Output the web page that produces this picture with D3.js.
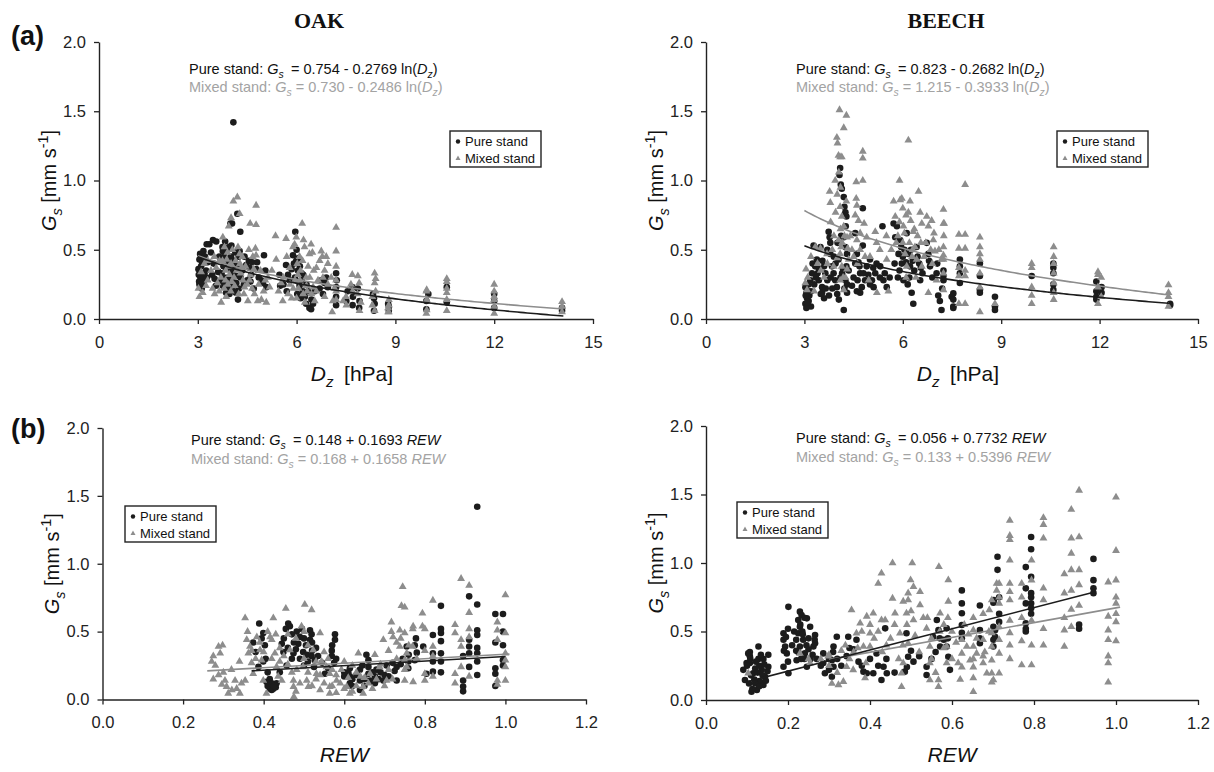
<!DOCTYPE html>
<html>
<head>
<meta charset="utf-8">
<script src="https://cdn.jsdelivr.net/npm/d3@7"></script>
<style>
  body { margin: 0; background: #fff; }
  svg text { font-family: "Liberation Sans", Arial, sans-serif; }
</style>
</head>
<body>
<svg id="chart" width="1214" height="772"></svg>
<script>
'use strict';

// ---- data ----
var speciesNames = ['OAK', 'BEECH'];
var rowLabels = ['(a)', '(b)'];
var seriesNames = ['Pure stand', 'Mixed stand'];
var dzTicks = [0, 3, 6, 9, 12, 15];
var rewTicks = [0, 0.2, 0.4, 0.6, 0.8, 1.0, 1.2];
var gsTicks = [0, 0.5, 1.0, 1.5, 2.0];

// regression fits [intercept, slope] and the span they are drawn over
var oakDzFit = [[0.754, -0.2769], [0.730, -0.2486]];
var beechDzFit = [[0.823, -0.2682], [1.215, -0.3933]];
var oakRewFit = [[0.148, 0.1693], [0.168, 0.1658]];
var beechRewFit = [[0.056, 0.7732], [0.133, 0.5396]];
var oakDzSpan = [[3.0, 14.1], [3.0, 14.1]];
var beechDzSpan = [[3.0, 14.15], [3.0, 14.15]];
var oakRewSpan = [[0.37, 1.0], [0.26, 1.01]];
var beechRewSpan = [[0.1, 0.95], [0.3, 1.01]];

var oakDzPure = [
  [3.03,0.32],[3.05,0.43],[3.05,0.25],[3.08,0.3],[3.1,0.38],[3.15,0.29],[3.17,0.49],[3.2,0.33],[3.25,0.35],[3.27,0.54],
  [3.35,0.54],[3.44,0.32],[3.46,0.57],[3.51,0.29],[3.56,0.56],[3.76,0.49],[3.76,0.24],[3.78,0.38],[3.8,0.3],[3.81,0.45],
  [3.86,0.37],[3.86,0.19],[3.9,0.42],[3.95,0.52],[3.96,0.18],[3.99,0.69],[4.0,0.25],[4.01,0.45],[4.04,0.69],[4.05,0.28],
  [4.06,0.35],[4.08,1.42],[4.1,0.2],[4.11,0.36],[4.17,0.31],[4.17,0.26],[4.2,0.76],[4.22,0.14],[4.27,0.49],[4.29,0.63],
  [4.42,0.45],[4.47,0.39],[4.5,0.28],[4.57,0.37],[4.62,0.32],[4.7,0.22],[4.77,0.36],[4.93,0.28],[4.98,0.26],[5.01,0.46],
  [5.08,0.23],[5.48,0.32],[5.68,0.39],[5.74,0.32],[5.79,0.28],[5.89,0.46],[5.95,0.3],[5.96,0.63],[5.99,0.42],[6.02,0.18],
  [6.04,0.35],[6.09,0.24],[6.1,0.38],[6.15,0.28],[6.19,0.2],[6.29,0.11],[6.39,0.08],[6.44,0.07],[6.5,0.11],[6.75,0.28],
  [6.85,0.26],[6.95,0.23],[7.2,0.33],[7.2,0.23],[7.2,0.16],[7.51,0.13],[7.69,0.23],[7.71,0.16],[7.86,0.22],[7.91,0.13],
  [8.32,0.18],[8.37,0.11],[8.78,0.11],[8.8,0.06],[9.94,0.13],[9.94,0.07],[10.56,0.23],[10.56,0.12],[12.0,0.13],[12.0,0.08],
  [14.06,0.06],[14.06,0.08],[3.12,0.22],[3.3,0.41],[3.62,0.34],[3.7,0.27],[3.83,0.56],[3.92,0.3],[4.03,0.4],[4.14,0.48],
  [4.25,0.22],[4.35,0.35],[4.55,0.42],[4.85,0.3],[5.6,0.25],[5.85,0.36],[6.0,0.5],[6.06,0.44],[6.12,0.15],[6.2,0.32],
  [6.3,0.25],[6.55,0.2],[6.8,0.18],[7.2,0.1],[7.55,0.2],[7.9,0.08],[8.35,0.06],[10.0,0.18],[12.0,0.18],
  [3.02,0.36],[3.04,0.27],[3.07,0.47],[3.13,0.41],[3.18,0.26],[3.22,0.45],[3.28,0.3],[3.4,0.48],[3.48,0.4],[3.55,0.24],
  [3.65,0.45],[3.72,0.33],[3.75,0.52],[3.82,0.27],[3.88,0.5],[3.93,0.23],[3.98,0.36],[4.02,0.53],[4.07,0.31],[4.12,0.42],
  [4.16,0.19],[4.19,0.38],[4.24,0.45],[4.3,0.3],[4.4,0.25],[4.6,0.27],[4.65,0.41],[4.8,0.41],[5.05,0.35],[5.5,0.24],
  [5.7,0.2],[5.92,0.4],[6.05,0.27],[6.15,0.33],[6.25,0.16],[6.35,0.2],[6.45,0.14],[6.7,0.22],[6.9,0.3],[7.22,0.28],
  [7.7,0.1],[8.35,0.15],[8.8,0.09]
];
var oakDzMixed = [
  [3.05,0.16],[3.2,0.4],[3.3,0.42],[3.51,0.18],[3.56,0.37],[3.66,0.42],[3.76,0.59],[3.81,0.52],[3.71,0.12],[3.86,0.16],
  [3.91,0.25],[3.96,0.32],[4.01,0.4],[3.94,0.67],[4.01,0.73],[4.08,0.85],[4.2,0.88],[4.22,0.52],[4.27,0.47],[4.27,0.76],
  [4.32,0.37],[4.37,0.28],[4.42,0.23],[4.52,0.13],[4.59,0.69],[4.77,0.82],[4.77,0.68],[4.75,0.51],[4.77,0.46],[4.67,0.45],
  [4.57,0.28],[4.72,0.18],[4.82,0.13],[4.93,0.14],[5.08,0.12],[5.13,0.3],[5.18,0.23],[5.36,0.6],[5.38,0.43],[5.53,0.26],
  [5.58,0.13],[5.68,0.58],[5.74,0.18],[5.79,0.37],[5.89,0.52],[5.94,0.54],[5.99,0.59],[6.04,0.32],[6.09,0.45],[6.17,0.69],
  [6.21,0.57],[6.24,0.52],[6.29,0.3],[6.39,0.47],[6.44,0.54],[6.48,0.48],[6.5,0.23],[6.55,0.13],[6.6,0.37],[6.75,0.49],
  [6.78,0.45],[6.85,0.16],[6.9,0.45],[6.95,0.4],[7.2,0.66],[7.2,0.49],[7.2,0.28],[7.1,0.13],[7.08,0.05],[7.41,0.13],
  [7.51,0.1],[7.69,0.32],[7.86,0.31],[7.91,0.06],[8.37,0.33],[8.37,0.26],[8.37,0.06],[8.78,0.08],[8.78,0.05],[9.94,0.2],
  [9.94,0.04],[3.3,0.28],[3.5,0.45],[3.7,0.3],[3.85,0.35],[3.9,0.48],[4.0,0.2],[4.1,0.3],[4.15,0.42],[4.3,0.33],
  [4.45,0.38],[4.6,0.32],[4.9,0.35],[5.0,0.2],[5.9,0.22],[6.0,0.15],[6.1,0.28],[6.2,0.18],[6.3,0.24],[6.35,0.38],
  [6.6,0.2],[6.8,0.3],[7.2,0.38],[7.2,0.2],[7.7,0.2],[7.9,0.26],[8.3,0.16],[8.4,0.2],[8.8,0.14],[8.8,0.1],
  [8.8,0.05],[9.95,0.21],[9.95,0.14],[9.95,0.065],[10.56,0.29],[10.56,0.27],[10.56,0.22],[10.56,0.19],[10.56,0.14],[10.56,0.06],
  [12.0,0.25],[12.0,0.2],[12.0,0.16],[12.0,0.14],[12.0,0.09],[12.0,0.04],[14.06,0.125],[14.06,0.09],[14.06,0.05],
  [3.02,0.22],[3.1,0.34],[3.15,0.19],[3.25,0.24],[3.4,0.35],[3.45,0.22],[3.6,0.26],[3.65,0.2],[3.75,0.42],[3.8,0.22],
  [3.84,0.28],[3.88,0.43],[3.95,0.38],[4.03,0.27],[4.05,0.5],[4.12,0.24],[4.18,0.35],[4.24,0.18],[4.28,0.4],[4.35,0.45],
  [4.4,0.18],[4.5,0.25],[4.55,0.5],[4.65,0.22],[4.7,0.36],[4.85,0.25],[5.05,0.28],[5.25,0.35],[5.45,0.2],[5.6,0.3],
  [5.7,0.45],[5.8,0.25],[5.85,0.15],[5.95,0.28],[6.02,0.4],[6.06,0.22],[6.12,0.35],[6.18,0.42],[6.25,0.12],[6.32,0.2],
  [6.4,0.3],[6.45,0.18],[6.52,0.35],[6.65,0.28],[6.7,0.42],[6.85,0.35],[6.95,0.25],[7.05,0.3],[7.15,0.22],[7.2,0.14],
  [7.5,0.16],[7.65,0.25],[7.85,0.18],[7.95,0.12],[8.3,0.1],[8.4,0.29]
];

var beechDzPure = [
  [3.03,0.23],[3.06,0.19],[3.08,0.15],[3.13,0.13],[3.03,0.11],[3.18,0.28],[3.23,0.33],[3.28,0.53],[3.33,0.38],[3.38,0.43],
  [3.44,0.28],[3.49,0.52],[3.54,0.23],[3.54,0.19],[3.64,0.33],[3.74,0.63],[3.77,0.59],[3.79,0.55],[3.79,0.47],[3.84,0.38],
  [3.89,0.33],[3.94,0.28],[3.99,0.23],[4.01,0.55],[4.04,0.43],[4.07,1.04],[4.09,1.09],[4.11,0.97],[4.14,0.94],[4.2,0.88],
  [4.22,0.81],[4.25,0.77],[4.28,0.74],[4.26,0.67],[4.2,0.59],[4.25,0.52],[4.3,0.47],[4.28,0.38],[4.25,0.28],[4.3,0.19],
  [4.2,0.065],[4.55,0.62],[4.6,0.47],[4.65,0.41],[4.7,0.33],[4.75,0.23],[4.78,0.8],[4.78,0.53],[4.7,0.19],[4.9,0.38],
  [5.0,0.43],[5.06,0.28],[5.11,0.23],[5.16,0.33],[5.31,0.38],[5.38,0.67],[5.41,0.28],[5.51,0.23],[5.72,0.69],[5.77,0.59],
  [5.82,0.67],[5.87,0.47],[5.92,0.57],[5.97,0.4],[6.02,0.28],[6.12,0.62],[6.17,0.47],[6.22,0.38],[6.27,0.19],[6.32,0.11],
  [6.42,0.52],[6.53,0.28],[6.73,0.55],[6.78,0.47],[6.83,0.38],[7.03,0.33],[7.08,0.17],[7.13,0.13],[7.18,0.065],[7.49,0.16],
  [7.54,0.09],[7.24,0.35],[7.24,0.31],[7.24,0.28],[7.54,0.185],[7.54,0.14],[7.54,0.08],[7.74,0.43],[7.74,0.38],[7.74,0.33],
  [7.74,0.26],[8.35,0.4],[8.35,0.31],[8.35,0.21],[8.35,0.19],[8.81,0.16],[8.81,0.09],[8.81,0.065],[9.93,0.31],[10.59,0.4],
  [10.59,0.37],[10.59,0.33],[10.59,0.25],[10.59,0.21],[11.9,0.27],[11.9,0.2],[11.9,0.16],[11.9,0.14],[12.06,0.23],[12.06,0.19],
  [14.15,0.11],[14.15,0.1],[3.1,0.2],[3.15,0.17],[3.2,0.09],[3.3,0.25],[3.4,0.33],[3.6,0.15],[3.7,0.28],[3.85,0.22],
  [3.9,0.45],[4.05,0.14],[4.15,0.33],[4.3,0.25],[4.5,0.3],[4.6,0.2],[4.85,0.28],[5.0,0.25],[5.2,0.4],[5.6,0.3],
  [5.9,0.35],[6.05,0.5],[6.2,0.3],[6.3,0.42],[6.5,0.4],[6.6,0.33],
  [3.04,0.17],[3.06,0.08],[3.1,0.12],[3.12,0.25],[3.2,0.2],[3.25,0.4],[3.35,0.3],[3.45,0.36],[3.5,0.18],[3.55,0.42],
  [3.6,0.38],[3.65,0.22],[3.7,0.5],[3.75,0.17],[3.8,0.3],[3.95,0.4],[4.0,0.18],[4.1,0.3],[4.12,0.6],[4.18,0.36],
  [4.22,0.22],[4.35,0.35],[4.45,0.24],[4.55,0.4],[4.62,0.28],[4.68,0.38],[4.8,0.33],[4.95,0.32],[5.1,0.37],[5.3,0.3],
  [5.45,0.33],[5.75,0.4],[5.85,0.3],[5.95,0.52],[6.0,0.45],[6.1,0.41],[6.15,0.25],[6.25,0.5],[6.35,0.35],[6.45,0.45],
  [6.55,0.37],[6.8,0.42],[6.9,0.3],[7.05,0.4],[7.2,0.22]
];
var beechDzMixed = [
  [3.03,0.26],[3.08,0.21],[3.33,0.52],[3.49,0.51],[3.69,0.47],[3.77,0.92],[3.79,0.84],[3.89,0.38],[3.94,1.0],[3.99,1.31],
  [4.01,1.27],[4.04,1.18],[4.07,1.51],[4.09,1.17],[4.14,1.17],[4.2,1.38],[4.28,1.47],[4.09,0.81],[4.14,0.74],[4.2,0.67],
  [4.04,0.57],[4.09,0.47],[4.14,0.38],[4.09,0.28],[4.2,0.21],[4.3,0.59],[4.32,0.51],[4.35,0.43],[4.58,0.99],[4.58,0.87],
  [4.6,0.82],[4.6,0.57],[4.65,0.71],[4.78,1.21],[4.78,1.16],[4.78,1.0],[4.82,0.69],[4.9,0.59],[4.96,0.28],[5.16,0.63],
  [5.21,0.19],[5.51,0.43],[5.56,0.2],[5.72,0.85],[5.77,0.74],[5.9,1.0],[5.92,0.86],[5.97,0.87],[6.02,0.67],[6.07,0.47],
  [6.12,0.38],[6.17,1.29],[6.17,0.77],[6.22,0.85],[6.24,0.71],[6.32,0.63],[6.37,0.52],[6.42,0.43],[6.48,0.92],[6.53,0.77],
  [6.58,0.69],[6.58,0.38],[6.73,0.74],[6.78,0.67],[6.88,0.71],[6.93,0.57],[6.98,0.49],[7.03,0.28],[7.24,0.79],[7.26,0.69],
  [7.18,0.43],[6.78,0.19],[7.24,0.69],[7.24,0.52],[7.24,0.46],[7.24,0.43],[7.24,0.33],[7.24,0.21],[7.71,0.61],[7.71,0.51],
  [7.71,0.37],[7.71,0.31],[7.71,0.11],[7.9,0.97],[7.9,0.61],[7.9,0.51],[7.9,0.35],[7.9,0.31],[7.9,0.11],[8.35,0.59],
  [8.35,0.52],[8.35,0.47],[8.35,0.43],[8.35,0.33],[8.35,0.23],[8.35,0.05],[8.81,0.11],[9.93,0.4],[9.93,0.37],[9.93,0.23],
  [9.93,0.17],[9.93,0.11],[10.6,0.52],[10.6,0.45],[10.6,0.4],[10.6,0.33],[10.6,0.26],[10.6,0.19],[10.6,0.14],[11.95,0.34],
  [11.95,0.32],[12.05,0.3],[11.95,0.23],[12.05,0.16],[11.95,0.11],[14.1,0.245],[14.1,0.19],[14.1,0.16],[14.1,0.09],[3.1,0.3],
  [3.4,0.4],[3.6,0.3],[3.9,0.6],[4.0,0.9],[4.1,0.65],[4.15,0.55],[4.25,0.3],[4.4,0.6],[4.5,0.45],[4.7,0.5],
  [5.0,0.45],[5.3,0.5],[5.85,0.6],[6.0,0.55],[6.1,0.3],[6.3,0.5],[6.45,0.6],[6.7,0.55],[6.9,0.4],
  [3.05,0.36],[3.2,0.45],[3.3,0.2],[3.5,0.35],[3.7,0.4],[3.8,0.7],[3.85,0.5],[3.95,0.77],[4.0,0.44],[4.05,1.06],
  [4.1,0.95],[4.12,0.52],[4.18,0.3],[4.22,0.6],[4.28,0.85],[4.3,0.36],[4.45,0.5],[4.55,0.75],[4.62,0.4],[4.7,0.62],
  [4.85,0.45],[5.2,0.55],[5.5,0.6],[5.65,0.5],[5.8,0.55],[5.9,0.7],[6.0,0.8],[6.05,0.62],[6.1,0.75],[6.2,0.55],
  [6.28,0.45],[6.35,0.65],[6.4,0.3],[6.55,0.55],[6.65,0.45],[6.85,0.5],[6.95,0.62],[7.1,0.5],[7.25,0.6]
];

var oakRewPure = [
  [0.374,0.42],[0.389,0.56],[0.399,0.49],[0.403,0.4],[0.399,0.28],[0.387,0.24],[0.407,0.13],[0.416,0.08],[0.42,0.07],[0.424,0.08],
  [0.432,0.12],[0.445,0.41],[0.449,0.35],[0.461,0.56],[0.465,0.54],[0.482,0.5],[0.49,0.46],[0.515,0.51],[0.519,0.48],[0.486,0.41],
  [0.498,0.35],[0.507,0.33],[0.519,0.32],[0.527,0.29],[0.457,0.25],[0.474,0.34],[0.577,0.48],[0.577,0.44],[0.569,0.36],[0.569,0.32],
  [0.552,0.19],[0.614,0.23],[0.614,0.17],[0.614,0.12],[0.639,0.22],[0.639,0.14],[0.639,0.07],[0.655,0.33],[0.66,0.29],[0.66,0.24],
  [0.676,0.17],[0.676,0.12],[0.697,0.14],[0.68,0.22],[0.664,0.14],[0.73,0.24],[0.73,0.14],[0.755,0.39],[0.759,0.28],[0.759,0.23],
  [0.778,0.45],[0.78,0.345],[0.796,0.39],[0.804,0.19],[0.775,0.4],[0.775,0.29],[0.82,0.475],[0.82,0.34],[0.82,0.28],[0.82,0.205],
  [0.84,0.69],[0.84,0.52],[0.84,0.49],[0.84,0.43],[0.84,0.34],[0.84,0.28],[0.84,0.2],[0.895,0.32],[0.895,0.14],[0.895,0.095],
  [0.895,0.06],[0.91,0.76],[0.91,0.44],[0.91,0.39],[0.91,0.34],[0.91,0.24],[0.93,1.42],[0.93,0.7],[0.93,0.51],[0.93,0.475],
  [0.93,0.38],[0.93,0.34],[0.93,0.28],[0.93,0.18],[0.975,0.63],[0.975,0.42],[0.975,0.23],[0.975,0.19],[0.975,0.1],[0.994,0.63],
  [0.994,0.5],[0.994,0.4],[0.994,0.29],[0.994,0.25],[0.5,0.25],[0.52,0.42],[0.53,0.38],[0.47,0.3],[0.44,0.2],[0.6,0.2],
  [0.62,0.15],[0.65,0.1],[0.67,0.2],[0.7,0.18],[0.72,0.27],[0.745,0.3],[0.56,0.23],[0.58,0.3],[0.41,0.1],[0.43,0.09],
  [0.38,0.35],[0.395,0.45],[0.405,0.3],[0.41,0.2],[0.415,0.15],[0.42,0.12],[0.425,0.1],[0.45,0.45],[0.455,0.52],[0.46,0.38],
  [0.47,0.48],[0.475,0.42],[0.48,0.37],[0.49,0.3],[0.495,0.52],[0.5,0.45],[0.505,0.4],[0.51,0.28],[0.515,0.44],[0.52,0.36],
  [0.525,0.24],[0.535,0.32],[0.545,0.27],[0.57,0.4],[0.575,0.27],[0.6,0.17],[0.61,0.2],[0.62,0.1],[0.63,0.18],[0.645,0.25],
  [0.65,0.15],[0.66,0.19],[0.67,0.13],[0.685,0.15],[0.69,0.2],[0.705,0.25],[0.71,0.17],[0.725,0.21],[0.74,0.26],[0.76,0.33]
];
var oakRewMixed = [
  [0.271,0.28],[0.275,0.32],[0.288,0.39],[0.292,0.34],[0.298,0.4],[0.275,0.15],[0.288,0.18],[0.296,0.11],[0.304,0.14],[0.308,0.095],
  [0.312,0.045],[0.321,0.07],[0.329,0.14],[0.333,0.08],[0.341,0.045],[0.345,0.12],[0.354,0.6],[0.354,0.14],[0.358,0.44],[0.362,0.34],
  [0.366,0.39],[0.37,0.27],[0.374,0.19],[0.383,0.46],[0.391,0.365],[0.395,0.29],[0.399,0.14],[0.407,0.045],[0.416,0.46],[0.42,0.44],
  [0.424,0.6],[0.428,0.34],[0.432,0.24],[0.436,0.17],[0.445,0.14],[0.455,0.67],[0.465,0.365],[0.474,0.14],[0.474,0.095],[0.475,0.02],
  [0.482,0.22],[0.494,0.54],[0.498,0.24],[0.502,0.7],[0.507,0.14],[0.511,0.095],[0.519,0.66],[0.523,0.365],[0.531,0.19],[0.54,0.49],
  [0.54,0.07],[0.544,0.28],[0.556,0.24],[0.564,0.19],[0.564,0.095],[0.564,0.045],[0.581,0.14],[0.593,0.22],[0.606,0.095],[0.614,0.045],
  [0.635,0.34],[0.647,0.095],[0.647,0.045],[0.664,0.19],[0.676,0.33],[0.688,0.24],[0.697,0.44],[0.705,0.14],[0.717,0.57],[0.717,0.5],
  [0.721,0.46],[0.738,0.51],[0.738,0.39],[0.742,0.69],[0.745,0.83],[0.755,0.34],[0.755,0.24],[0.771,0.54],[0.771,0.13],[0.794,0.635],
  [0.794,0.54],[0.75,0.68],[0.75,0.49],[0.75,0.29],[0.75,0.22],[0.75,0.14],[0.77,0.52],[0.77,0.39],[0.8,0.52],[0.8,0.36],
  [0.8,0.19],[0.8,0.14],[0.82,0.73],[0.82,0.39],[0.82,0.32],[0.82,0.17],[0.875,0.55],[0.875,0.49],[0.875,0.19],[0.875,0.12],
  [0.89,0.89],[0.89,0.44],[0.89,0.39],[0.89,0.24],[0.91,0.84],[0.91,0.64],[0.91,0.52],[0.91,0.46],[0.91,0.17],[0.98,0.57],
  [0.98,0.51],[0.98,0.44],[0.98,0.14],[0.98,0.11],[1.0,0.77],[1.0,0.49],[1.0,0.34],[1.0,0.29],[1.0,0.24],[1.0,0.14],
  [0.42,0.3],[0.44,0.38],[0.46,0.26],[0.48,0.45],[0.5,0.3],[0.51,0.2],[0.53,0.15],[0.55,0.35],[0.57,0.1],[0.58,0.18],
  [0.6,0.28],[0.62,0.06],[0.63,0.2],[0.65,0.16],[0.67,0.08],[0.69,0.26],[0.71,0.36],[0.72,0.15],[0.73,0.42],
  [0.28,0.25],[0.3,0.2],[0.32,0.22],[0.34,0.28],[0.36,0.5],[0.37,0.36],[0.38,0.3],[0.39,0.42],[0.4,0.35],[0.41,0.5],
  [0.43,0.48],[0.44,0.28],[0.45,0.32],[0.46,0.48],[0.47,0.2],[0.48,0.06],[0.49,0.12],[0.5,0.5],[0.51,0.4],[0.52,0.1],
  [0.53,0.28],[0.54,0.18],[0.55,0.12],[0.56,0.3],[0.57,0.22],[0.58,0.05],[0.59,0.12],[0.6,0.08],[0.61,0.16],[0.62,0.25],
  [0.63,0.1],[0.64,0.17],[0.66,0.12],[0.68,0.15],[0.7,0.1],[0.71,0.22],[0.73,0.3],[0.74,0.45],[0.76,0.4],[0.78,0.3]
];

var beechRewPure = [
  [0.091,0.22],[0.095,0.146],[0.099,0.27],[0.103,0.34],[0.107,0.35],[0.107,0.32],[0.107,0.27],[0.111,0.06],[0.115,0.195],[0.12,0.23],
  [0.124,0.073],[0.128,0.39],[0.128,0.3],[0.132,0.134],[0.136,0.22],[0.14,0.11],[0.144,0.17],[0.152,0.33],[0.152,0.243],[0.189,0.487],
  [0.189,0.44],[0.193,0.39],[0.197,0.34],[0.189,0.243],[0.201,0.68],[0.201,0.195],[0.229,0.645],[0.233,0.62],[0.225,0.584],[0.229,0.535],
  [0.225,0.487],[0.237,0.44],[0.229,0.39],[0.241,0.34],[0.221,0.29],[0.246,0.596],[0.246,0.243],[0.254,0.535],[0.262,0.39],[0.266,0.474],
  [0.266,0.414],[0.286,0.34],[0.286,0.27],[0.29,0.195],[0.307,0.29],[0.307,0.17],[0.311,0.243],[0.319,0.462],[0.311,0.39],[0.347,0.462],
  [0.343,0.32],[0.367,0.44],[0.372,0.28],[0.384,0.207],[0.392,0.195],[0.437,0.523],[0.416,0.34],[0.408,0.195],[0.428,0.146],[0.433,0.243],
  [0.441,0.195],[0.489,0.487],[0.485,0.207],[0.493,0.316],[0.506,0.28],[0.538,0.243],[0.538,0.183],[0.563,0.584],[0.567,0.51],[0.571,0.39],
  [0.554,0.462],[0.587,0.523],[0.587,0.39],[0.591,0.316],[0.595,0.22],[0.624,0.8],[0.624,0.705],[0.624,0.633],[0.624,0.547],[0.624,0.45],
  [0.668,0.69],[0.668,0.51],[0.668,0.414],[0.702,0.73],[0.705,0.51],[0.705,0.462],[0.711,1.046],[0.711,0.95],[0.624,0.49],[0.668,0.45],
  [0.701,0.71],[0.701,0.535],[0.701,0.44],[0.701,0.39],[0.715,0.75],[0.715,0.63],[0.715,0.57],[0.78,0.97],[0.78,0.815],[0.78,0.705],
  [0.78,0.56],[0.78,0.52],[0.78,0.5],[0.793,1.19],[0.793,1.1],[0.793,0.9],[0.793,0.78],[0.793,0.75],[0.793,0.705],[0.793,0.67],
  [0.793,0.63],[0.91,0.55],[0.91,0.52],[0.945,1.03],[0.945,0.875],[0.945,0.815],[0.945,0.78],[0.11,0.18],[0.12,0.12],[0.13,0.25],
  [0.14,0.3],[0.2,0.28],[0.21,0.4],[0.22,0.36],[0.235,0.5],[0.24,0.3],[0.25,0.45],[0.26,0.33],[0.3,0.22],[0.32,0.3],
  [0.36,0.37],[0.4,0.3],[0.42,0.25],[0.5,0.36],[0.55,0.3],[0.57,0.45],
  [0.1,0.25],[0.105,0.12],[0.108,0.3],[0.113,0.08],[0.118,0.15],[0.122,0.28],[0.126,0.2],[0.13,0.1],[0.134,0.33],[0.138,0.18],
  [0.142,0.26],[0.146,0.14],[0.15,0.21],[0.19,0.36],[0.195,0.46],[0.2,0.52],[0.215,0.5],[0.22,0.44],[0.225,0.35],[0.23,0.55],
  [0.232,0.3],[0.236,0.48],[0.24,0.6],[0.245,0.4],[0.25,0.37],[0.255,0.3],[0.265,0.44],[0.27,0.3],[0.28,0.25],[0.3,0.3],
  [0.31,0.35],[0.33,0.25],[0.35,0.38],[0.38,0.25],[0.44,0.3],[0.46,0.2],[0.49,0.24],[0.52,0.32],[0.56,0.35],[0.58,0.44],[0.59,0.45]
];
var beechRewMixed = [
  [0.103,0.195],[0.229,0.34],[0.254,0.27],[0.298,0.32],[0.307,0.12],[0.323,0.11],[0.335,0.134],[0.343,0.243],[0.355,0.657],[0.359,0.22],
  [0.367,0.487],[0.376,0.56],[0.384,0.39],[0.388,0.16],[0.392,0.61],[0.4,0.487],[0.4,0.39],[0.408,0.633],[0.42,0.85],[0.428,0.925],
  [0.428,0.584],[0.437,0.584],[0.455,1.0],[0.455,0.742],[0.461,0.633],[0.473,0.487],[0.477,0.097],[0.477,0.195],[0.481,0.27],[0.481,0.72],
  [0.489,0.633],[0.493,0.78],[0.493,0.73],[0.493,0.414],[0.499,0.876],[0.503,1.0],[0.506,0.827],[0.506,0.584],[0.522,0.79],[0.522,0.693],
  [0.538,0.523],[0.546,0.39],[0.546,0.27],[0.546,0.146],[0.568,0.973],[0.571,0.633],[0.567,0.146],[0.567,0.097],[0.587,0.39],[0.587,0.27],
  [0.591,0.876],[0.591,0.72],[0.615,0.27],[0.636,0.39],[0.644,0.29],[0.652,0.06],[0.66,0.34],[0.676,0.27],[0.685,0.195],[0.691,0.657],
  [0.701,0.146],[0.709,0.85],[0.709,0.8],[0.624,0.44],[0.624,0.34],[0.624,0.24],[0.652,0.6],[0.652,0.51],[0.652,0.39],[0.652,0.3],
  [0.652,0.24],[0.652,0.16],[0.676,0.63],[0.676,0.44],[0.676,0.32],[0.697,0.73],[0.697,0.49],[0.697,0.39],[0.697,0.29],[0.697,0.195],
  [0.697,0.13],[0.715,0.85],[0.715,0.75],[0.715,0.705],[0.715,0.535],[0.715,0.44],[0.715,0.34],[0.715,0.195],[0.741,1.31],[0.741,1.2],
  [0.741,1.17],[0.741,1.02],[0.741,0.85],[0.741,0.79],[0.741,0.73],[0.741,0.58],[0.741,0.49],[0.741,0.4],[0.741,0.3],[0.77,0.85],
  [0.77,0.75],[0.77,0.6],[0.77,0.43],[0.77,0.255],[0.794,1.02],[0.794,0.875],[0.794,0.58],[0.794,0.4],[0.794,0.255],[0.823,1.33],
  [0.823,1.28],[0.823,1.18],[0.823,0.815],[0.823,0.73],[0.823,0.52],[0.823,0.4],[0.874,0.92],[0.874,0.78],[0.874,0.6],[0.874,0.51],
  [0.874,0.39],[0.891,1.39],[0.891,1.18],[0.891,1.07],[0.891,0.95],[0.891,0.8],[0.891,0.66],[0.891,0.535],[0.91,1.53],[0.91,1.19],
  [0.91,0.95],[0.91,0.84],[0.91,0.69],[0.981,0.86],[0.981,0.61],[0.981,0.51],[0.981,0.44],[0.981,0.32],[0.981,0.27],[0.981,0.13],
  [1.0,1.48],[1.0,1.09],[1.0,0.875],[1.0,0.75],[1.0,0.705],[1.0,0.63],[1.0,0.57],[1.0,0.43],[0.3,0.25],[0.33,0.36],
  [0.35,0.3],[0.37,0.38],[0.39,0.27],[0.41,0.45],[0.43,0.35],[0.45,0.45],[0.47,0.3],[0.49,0.55],[0.51,0.47],[0.53,0.6],
  [0.55,0.45],[0.56,0.2],[0.58,0.55],[0.6,0.5],[0.6,0.3],[0.62,0.15],
  [0.25,0.3],[0.28,0.3],[0.3,0.33],[0.32,0.2],[0.34,0.4],[0.36,0.35],[0.38,0.5],[0.4,0.55],[0.42,0.5],[0.44,0.4],
  [0.46,0.55],[0.48,0.4],[0.5,0.65],[0.52,0.35],[0.54,0.6],[0.55,0.3],[0.57,0.5],[0.58,0.38],[0.59,0.6],[0.61,0.42],
  [0.63,0.55],[0.64,0.48],[0.66,0.45],[0.68,0.35],[0.69,0.5]
];

// ---- drawing ----
var svg = d3.select('#chart');
var PURE = '#1c1c1c';
var MIXED = '#8d8d8d';
var MIXED_TEXT = '#a3a3a3';
var AXIS = '#222';

var f3 = d3.format('.3f');
var f4 = d3.format('.4f');

function richText(g, x, y, color, size, parts) {
  var t = g.append('text').attr('x', x).attr('y', y).attr('fill', color).style('font-size', size + 'px');
  var shift = 0;
  parts.forEach(function (p) {
    var s = t.append('tspan').text(p[0]);
    var dy = 0;
    if (p[1] === 'sub') { dy = size * 0.28; s.style('font-size', (size * 0.72) + 'px').style('font-style', 'italic'); }
    else if (p[1] === 'sup') { dy = -size * 0.38; s.style('font-size', (size * 0.72) + 'px'); }
    else if (p[1] === 'i') { s.style('font-style', 'italic'); }
    if (dy - shift !== 0) s.attr('dy', dy - shift);
    shift = dy;
  });
  return t;
}

function drawPanel(cfg) {
  var g = svg.append('g');
  var x = d3.scaleLinear().domain(cfg.xDomain).range(cfg.xRange);
  var y = d3.scaleLinear().domain([0, 2]).range(cfg.yRange);

  var xAxis = d3.axisBottom(x).tickValues(cfg.xTicks).tickFormat(cfg.xFormat)
    .tickSize(5).tickSizeOuter(0).tickPadding(12);
  var yAxis = d3.axisLeft(y).tickValues(gsTicks).tickFormat(d3.format('.1f'))
    .tickSize(5).tickSizeOuter(0).tickPadding(8);

  var gx = g.append('g').attr('transform', 'translate(0,' + cfg.yRange[0] + ')').call(xAxis);
  var gy = g.append('g').attr('transform', 'translate(' + cfg.xRange[0] + ',0)').call(yAxis);
  [gx, gy].forEach(function (a) {
    a.select('.domain').attr('stroke', AXIS).attr('stroke-width', 1.4);
    a.selectAll('.tick line').attr('stroke', AXIS).attr('stroke-width', 1.3);
    a.selectAll('.tick text').attr('fill', '#222').style('font-size', '16.5px')
      .style('font-family', '"Liberation Sans", Arial, sans-serif');
  });

  // points: pure stand circles, mixed stand triangles on top
  g.append('g').selectAll('circle').data(cfg.pure).enter().append('circle')
    .attr('cx', function (d) { return x(d[0]); })
    .attr('cy', function (d) { return y(d[1]); })
    .attr('r', 3.3).attr('fill', PURE);

  var tri = d3.symbol().type(d3.symbolTriangle).size(27);
  g.append('g').selectAll('path').data(cfg.mixed).enter().append('path')
    .attr('d', tri)
    .attr('transform', function (d) { return 'translate(' + x(d[0]) + ',' + y(d[1]) + ')'; })
    .attr('fill', MIXED);

  // regression lines
  var line = d3.line().x(function (d) { return x(d[0]); }).y(function (d) { return y(d[1]); });
  [1, 0].forEach(function (k) {
    var c = cfg.fit[k], span = cfg.span[k];
    var xs = cfg.log ? d3.range(span[0], span[1], 0.1).concat([span[1]]) : span;
    var pts = xs.map(function (v) { return [v, c[0] + c[1] * (cfg.log ? Math.log(v) : v)]; });
    g.append('path').attr('d', line(pts)).attr('fill', 'none')
      .attr('stroke', k === 0 ? PURE : MIXED).attr('stroke-width', 1.6);
  });

  // equations
  [0, 1].forEach(function (k) {
    var c = cfg.fit[k];
    var sign = c[1] < 0 ? ' - ' : ' + ';
    var parts = [[seriesNames[k] + ': ', ''], ['G', 'i'], ['s', 'sub'],
      [(k === 0 ? '\u2002= ' : ' = ') + f3(c[0]) + sign + f4(Math.abs(c[1])) + ' ', '']];
    if (cfg.log) parts = parts.concat([['ln(', ''], ['D', 'i'], ['z', 'sub'], [')', '']]);
    else parts.push(['REW', 'i']);
    richText(g, cfg.eq[0], cfg.eq[1] + k * cfg.eqGap, k === 0 ? '#111' : MIXED_TEXT, 14.5, parts);
  });

  // legend
  var lg = g.append('g').attr('transform', 'translate(' + cfg.legend[0] + ',' + cfg.legend[1] + ')');
  lg.append('rect').attr('width', 91).attr('height', 36).attr('fill', '#fff')
    .attr('stroke', '#222').attr('stroke-width', 1.4);
  lg.append('circle').attr('cx', 8).attr('cy', 10.5).attr('r', 2.2).attr('fill', PURE);
  lg.append('path').attr('d', d3.symbol().type(d3.symbolTriangle).size(11))
    .attr('transform', 'translate(8,27.5)').attr('fill', MIXED);
  seriesNames.forEach(function (n, i) {
    lg.append('text').attr('x', 15).attr('y', 15 + i * 17).attr('fill', '#111')
      .style('font-size', '13px').text(n);
  });

  // axis titles
  var midY = (cfg.yRange[0] + cfg.yRange[1]) / 2;
  richText(g, 0, 0, '#111', 20, [['G', 'i'], ['s', 'sub'], [' [mm s', ''], ['-1', 'sup'], [']', '']])
    .attr('text-anchor', 'middle')
    .attr('transform', 'translate(' + cfg.yTitleX + ',' + midY + ') rotate(-90)');
  var midX = (cfg.xRange[0] + cfg.xRange[1]) / 2 + 6;
  var xt = cfg.log
    ? richText(g, midX, cfg.xTitleY, '#111', 21, [['D', 'i'], ['z', 'sub'], ['\u2002[hPa]', '']])
    : richText(g, midX - 6, cfg.xTitleY, '#111', 21, [['REW', 'i']]);
  xt.attr('text-anchor', 'middle');
}

var fmtInt = d3.format('d');
var fmt1 = d3.format('.1f');

var panels = [
  { pure: oakDzPure, mixed: oakDzMixed, fit: oakDzFit, span: oakDzSpan, log: true,
    xDomain: [0, 15], xTicks: dzTicks, xFormat: fmtInt, xRange: [99, 593], yRange: [319, 42],
    eq: [189, 74], eqGap: 18, legend: [450, 131], yTitleX: 56, xTitleY: 381 },
  { pure: beechDzPure, mixed: beechDzMixed, fit: beechDzFit, span: beechDzSpan, log: true,
    xDomain: [0, 15], xTicks: dzTicks, xFormat: fmtInt, xRange: [706, 1198], yRange: [319, 42],
    eq: [796, 74], eqGap: 18, legend: [1057, 131], yTitleX: 663, xTitleY: 381 },
  { pure: oakRewPure, mixed: oakRewMixed, fit: oakRewFit, span: oakRewSpan, log: false,
    xDomain: [0, 1.2], xTicks: rewTicks, xFormat: fmt1, xRange: [102.5, 586], yRange: [699.5, 428],
    eq: [191, 445], eqGap: 19, legend: [125, 506], yTitleX: 59, xTitleY: 762 },
  { pure: beechRewPure, mixed: beechRewMixed, fit: beechRewFit, span: beechRewSpan, log: false,
    xDomain: [0, 1.2], xTicks: rewTicks, xFormat: fmt1, xRange: [706, 1198], yRange: [700, 426],
    eq: [796, 443], eqGap: 19, legend: [737, 502], yTitleX: 663, xTitleY: 762 }
];
panels.forEach(drawPanel);

// species titles and row labels
[319, 946].forEach(function (cx, i) {
  svg.append('text').attr('x', cx).attr('y', 28).attr('text-anchor', 'middle')
    .style('font-family', '"Liberation Serif", "Times New Roman", serif')
    .style('font-weight', 'bold').style('font-size', '22px').attr('fill', '#111')
    .text(speciesNames[i]);
});
[45, 438].forEach(function (yy, i) {
  svg.append('text').attr('x', 11).attr('y', yy)
    .style('font-weight', 'bold').style('font-size', '27px').attr('fill', '#111')
    .text(rowLabels[i]);
});
</script>
</body>
</html>
